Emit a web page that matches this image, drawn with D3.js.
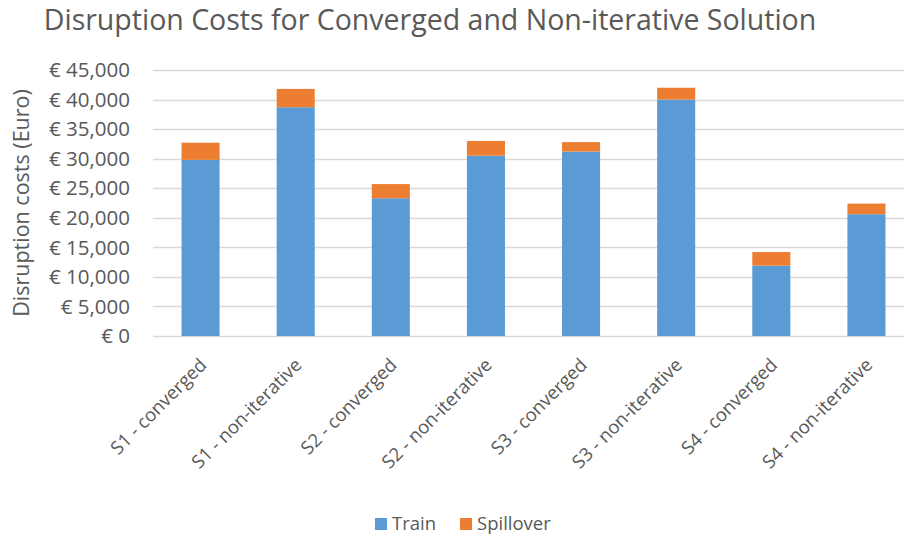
<!DOCTYPE html>
<html>
<head>
<meta charset="utf-8">
<style>
body { margin: 0; background: #ffffff; }
text { font-family: "Open Sans", "Noto Sans", sans-serif; fill: #595959; }
.grid line { stroke: #d9d9d9; stroke-width: 1.3px; }
.title { font-size: 28.5px; }
.tick-y { font-size: 20.5px; }
.tick-x { font-size: 18.5px; }
.ylab { font-size: 21.5px; }
.legend { font-size: 18.5px; }
</style>
<script src="https://d3js.org/d3.v7.min.js"></script>
</head>
<body>
<script>

var categories = ["S1 - converged", "S1 - non-iterative", "S2 - converged", "S2 - non-iterative",
                  "S3 - converged", "S3 - non-iterative", "S4 - converged", "S4 - non-iterative"];
var train     = [29800, 38700, 23300, 30500, 31200, 40000, 11900, 20600];
var spillover = [2900,  3100,  2400,  2500,  1600,  2000,  2300,  1800];
var seriesNames = ["Train", "Spillover"];
var colors = ["#5b9bd5", "#ed7d31"];
var yTicks = [0, 5000, 10000, 15000, 20000, 25000, 30000, 35000, 40000, 45000];

var width = 904, height = 535;
var plotLeft = 153, plotRight = 914, plotTop = 70, plotBottom = 336;

var svg = d3.select("body").append("svg")
    .attr("width", width)
    .attr("height", height);

var rows = categories.map(function(c, i) {
  return { cat: c, Train: train[i], Spillover: spillover[i] };
});

var x = d3.scaleBand().domain(categories).range([plotLeft, plotRight]).paddingInner(0.6).paddingOuter(0.3);
var y = d3.scaleLinear().domain([0, 45000]).range([plotBottom, plotTop]);
var color = d3.scaleOrdinal().domain(seriesNames).range(colors);

// gridlines
svg.append("g").attr("class", "grid")
  .selectAll("line").data(yTicks).enter().append("line")
  .attr("x1", plotLeft).attr("x2", plotRight)
  .attr("y1", function(d) { return Math.round(y(d)) + 0.5; })
  .attr("y2", function(d) { return Math.round(y(d)) + 0.5; });

// y tick labels
svg.append("g").selectAll("text").data(yTicks).enter().append("text")
  .attr("class", "tick-y")
  .attr("x", 130)
  .attr("y", function(d) { return y(d); })
  .attr("dy", "0.35em")
  .attr("text-anchor", "end")
  .text(function(d) { return "€ " + d3.format(",")(d); });

// stacked bars
var stack = d3.stack().keys(seriesNames)(rows);

svg.append("g").selectAll("g").data(stack).enter().append("g")
  .attr("fill", function(d) { return color(d.key); })
  .selectAll("rect").data(function(d) { return d; }).enter().append("rect")
  .attr("x", function(d) { return x(d.data.cat); })
  .attr("width", x.bandwidth())
  .attr("y", function(d) { return y(d[1]); })
  .attr("height", function(d) { return y(d[0]) - y(d[1]); });

// x labels, rotated
svg.append("g").selectAll("text").data(categories).enter().append("text")
  .attr("class", "tick-x")
  .attr("text-anchor", "end")
  .attr("transform", function(d) {
    return "translate(" + (x(d) + x.bandwidth() / 2 - 2) + "," + 357 + ") rotate(-45)";
  })
  .attr("dy", "0.7em")
  .text(function(d) { return d; });

// title
svg.append("text")
  .attr("class", "title")
  .attr("x", 430)
  .attr("y", 30)
  .attr("text-anchor", "middle")
  .text("Disruption Costs for Converged and Non-iterative Solution");

// y axis title
svg.append("text")
  .attr("class", "ylab")
  .attr("transform", "translate(29,203) rotate(-90)")
  .attr("text-anchor", "middle")
  .text("Disruption costs (Euro)");

// legend
var legend = svg.append("g").selectAll("g").data(seriesNames).enter().append("g")
  .attr("transform", function(d, i) { return "translate(" + (375 + i * 85) + ",518)"; });

legend.append("rect")
  .attr("width", 12).attr("height", 12)
  .attr("fill", function(d) { return color(d); });

legend.append("text")
  .attr("class", "legend")
  .attr("x", 17)
  .attr("y", 6)
  .attr("dy", "0.35em")
  .text(function(d) { return d; });

</script>
</body>
</html>
